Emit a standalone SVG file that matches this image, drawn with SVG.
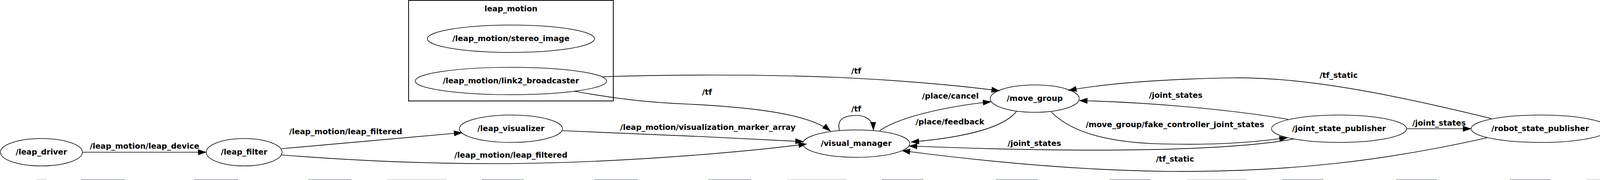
<svg xmlns="http://www.w3.org/2000/svg" width="4122" height="460" viewBox="0 0 4122 460">
<style>
text{font-family:"DejaVu Sans","Liberation Sans",sans-serif;font-weight:bold;font-size:19.8px;fill:#000;text-anchor:middle}
.node ellipse{fill:none;stroke:#000;stroke-width:1.4}
.edge{fill:none;stroke:#000;stroke-width:1.7}
.strip{fill:#a9aeb6}
.strip2{fill:#d6d8dc}
</style>
<defs>
<marker id="ah" viewBox="0 0 22 15" refX="21" refY="7.5" markerWidth="22" markerHeight="15" markerUnits="userSpaceOnUse" orient="auto">
<path d="M0,0 L22,7.5 L0,15 z" fill="#000"/>
</marker>
</defs>
<rect width="4122" height="460" fill="#fff"/>
<g id="cluster_leap_motion">
<rect x="1046" y="1" width="524" height="257" fill="none" stroke="#000" stroke-width="2"/>
<text x="1308" y="29">leap_motion</text>
</g>
<g id="connectors">
<path class="edge" marker-end="url(#ah)" d="M211,389 L528,389"/>
<text x="370" y="380">/leap_motion/leap_device</text>
<path class="edge" marker-end="url(#ah)" d="M721,380 L1183,339"/>
<text x="885" y="343">/leap_motion/leap_filtered</text>
<path class="edge" marker-end="url(#ah)" d="M721,396 C900,410 1100,420 1308,418 C1550,416 1850,395 2065,368"/>
<text x="1308" y="403">/leap_motion/leap_filtered</text>
<path class="edge" marker-end="url(#ah)" d="M1440,334 C1650,342 1850,351 2057,362"/>
<text x="1812" y="332">/leap_motion/visualization_marker_array</text>
<path class="edge" marker-end="url(#ah)" d="M1544,196 C1750,190 1950,190 2150,198 C2300,205 2450,218 2559,232"/>
<text x="2192" y="188">/tf</text>
<path class="edge" marker-end="url(#ah)" d="M1470,233 C1550,248 1650,262 1760,266 C1920,274 2070,290 2126,335"/>
<text x="1810" y="242">/tf</text>
<path class="edge" marker-end="url(#ah)" d="M2149,333 C2140,300 2170,295 2192,295 C2215,295 2235,305 2236,333"/>
<text x="2192" y="285">/tf</text>
<path class="edge" marker-end="url(#ah)" d="M2252,334 C2300,300 2420,272 2537,260"/>
<text x="2433" y="252">/place/cancel</text>
<path class="edge" marker-end="url(#ah)" d="M2602,285 C2570,325 2480,350 2332,363"/>
<text x="2432" y="318">/place/feedback</text>
<path class="edge" marker-end="url(#ah)" d="M2691,286 C2730,325 2800,360 2950,367 C3100,372 3200,365 3296,352"/>
<text x="3008" y="325">/move_group/fake_controller_joint_states</text>
<path class="edge" marker-end="url(#ah)" d="M3298,305 C3150,280 2950,262 2763,257"/>
<text x="3010" y="250">/joint_states</text>
<path class="edge" marker-end="url(#ah)" d="M3313,355 C3150,385 2800,392 2327,373"/>
<text x="2648" y="373">/joint_states</text>
<path class="edge" marker-end="url(#ah)" d="M3601,329 L3766,329"/>
<text x="3684" y="321">/joint_states</text>
<path class="edge" marker-end="url(#ah)" d="M3818,303 C3600,250 3350,195 3150,199 C3000,202 2850,210 2735,231"/>
<text x="3427" y="199">/tf_static</text>
<path class="edge" marker-end="url(#ah)" d="M3807,352 C3550,410 3300,440 3000,438 C2750,436 2500,410 2309,385"/>
<text x="3008" y="413">/tf_static</text>
</g>
<g id="n_leap_driver" class="node"><ellipse cx="106" cy="389" rx="105" ry="35"/><text x="106" y="395">/leap_driver</text></g>
<g id="n_leap_filter" class="node"><ellipse cx="625" cy="389" rx="97" ry="35"/><text x="625" y="395">/leap_filter</text></g>
<g id="n_leap_visualizer" class="node"><ellipse cx="1308" cy="329" rx="132" ry="35"/><text x="1308" y="335">/leap_visualizer</text></g>
<g id="n_stereo_image" class="node"><ellipse cx="1308" cy="99" rx="214" ry="35"/><text x="1308" y="105">/leap_motion/stereo_image</text></g>
<g id="n_link2_broadcaster" class="node"><ellipse cx="1308" cy="207" rx="245" ry="35"/><text x="1308" y="213">/leap_motion/link2_broadcaster</text></g>
<g id="n_visual_manager" class="node"><ellipse cx="2192" cy="367" rx="137" ry="35"/><text x="2192" y="373">/visual_manager</text></g>
<g id="n_move_group" class="node"><ellipse cx="2649" cy="252" rx="114" ry="35"/><text x="2649" y="258">/move_group</text></g>
<g id="n_joint_state_publisher" class="node"><ellipse cx="3428" cy="329" rx="173" ry="35"/><text x="3428" y="335">/joint_state_publisher</text></g>
<g id="n_robot_state_publisher" class="node"><ellipse cx="3943" cy="329" rx="177" ry="35"/><text x="3943" y="335">/robot_state_publisher</text></g>
<g id="bottom_strips">
<rect class="strip2" x="94" y="458" width="25" height="2"/>
<rect class="strip" x="208" y="458" width="111" height="2"/>
<rect class="strip" x="498" y="458" width="111" height="2"/>
<rect class="strip" x="789" y="458" width="111" height="2"/>
<rect class="strip2" x="991" y="458" width="152" height="2"/>
<rect class="strip" x="1234" y="458" width="107" height="2"/>
<rect class="strip" x="1523" y="458" width="109" height="2"/>
<rect class="strip" x="1813" y="458" width="110" height="2"/>
<rect class="strip2" x="2016" y="458" width="152" height="2"/>
<rect class="strip" x="2258" y="458" width="106" height="2"/>
<rect class="strip" x="2549" y="458" width="107" height="2"/>
<rect class="strip" x="2840" y="458" width="105" height="2"/>
<rect class="strip2" x="3039" y="458" width="153" height="2"/>
<rect class="strip" x="3283" y="458" width="105" height="2"/>
<rect class="strip" x="3574" y="458" width="104" height="2"/>
<rect class="strip" x="3865" y="458" width="104" height="2"/>
<rect class="strip2" x="4062" y="458" width="60" height="2"/>
</g>
</svg>
